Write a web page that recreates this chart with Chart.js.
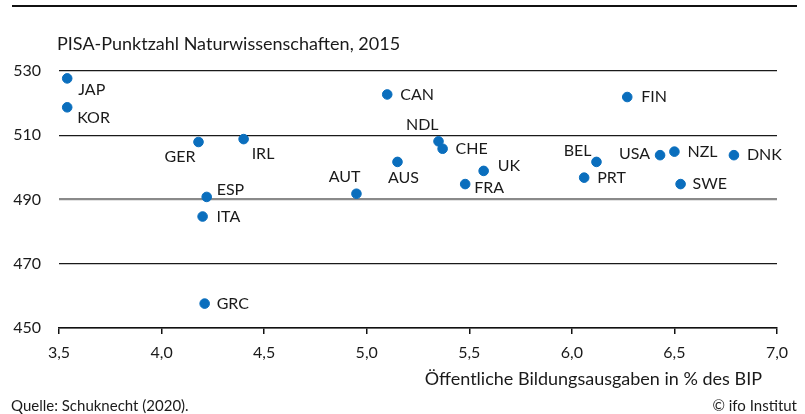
<!DOCTYPE html>
<html>
<head>
<meta charset="utf-8">
<script src="https://cdn.jsdelivr.net/npm/chart.js@4"></script>
<style>
  html, body { margin: 0; padding: 0; background: #fff; }
  #wrap { width: 805px; height: 414px; position: relative; }
</style>
</head>
<body>
<div id="wrap"><canvas id="pisaChart" width="805" height="414"></canvas></div>
<script>
// PISA score vs public education spending
const countries = ["JAP", "KOR", "GER", "IRL", "ESP", "ITA", "GRC", "AUT", "CAN", "AUS", "NDL",
                   "CHE", "UK", "FRA", "BEL", "PRT", "FIN", "USA", "NZL", "SWE", "DNK"];
const spending = [3.54, 3.54, 4.18, 4.40, 4.22, 4.20, 4.21, 4.95, 5.10, 5.15, 5.35,
                  5.37, 5.57, 5.48, 6.12, 6.06, 6.27, 6.43, 6.50, 6.53, 6.79];
const scores = [527.7, 518.7, 507.9, 508.8, 490.8, 484.7, 457.6, 491.8, 522.7, 501.7, 508.1,
                505.8, 498.9, 494.8, 501.7, 496.8, 521.9, 503.8, 504.9, 494.8, 503.8];
const yTicks = [450, 470, 490, 510, 530];
const xTickLabels = ["3,5", "4,0", "4,5", "5,0", "5,5", "6,0", "6,5", "7,0"];

const FONT = "Lato, 'Noto Sans', sans-serif";
const TEXT = "#1a1a1a";
const DOT = "#0a6ebd";

// where each label sits relative to its dot: [dx, dy, align]
const labelPlace = {
  JAP: [11, 11, "left"], KOR: [10, 11, "left"], GER: [-3, 15, "right"], IRL: [8, 15, "left"],
  ESP: [10, -7, "left"], ITA: [14, 0, "left"], GRC: [12, 0, "left"], AUT: [4, -17, "right"],
  CAN: [13, 0, "left"], AUS: [6, 16, "center"], NDL: [0, -17, "right"], CHE: [13, 0, "left"],
  UK: [14, -5, "left"], FRA: [9, 4, "left"], BEL: [-5, -11, "right"], PRT: [13, 0, "left"],
  FIN: [14, 0, "left"], USA: [-10, -1, "right"], NZL: [13, 0, "left"], SWE: [12, 0, "left"],
  DNK: [13, 0, "left"]
};

const pointLabels = {
  id: "pointLabels",
  afterDatasetsDraw(chart) {
    const ctx = chart.ctx;
    const meta = chart.getDatasetMeta(0);
    ctx.save();
    ctx.font = "16px " + FONT;
    ctx.fillStyle = TEXT;
    ctx.textBaseline = "middle";
    meta.data.forEach((pt, i) => {
      const p = labelPlace[countries[i]] || [12, 0, "left"];
      ctx.textAlign = p[2];
      ctx.fillText(countries[i], pt.x + p[0], pt.y + p[1]);
    });
    ctx.restore();
  }
};

const extras = {
  id: "extras",
  afterDraw(chart) {
    const ctx = chart.ctx;
    ctx.save();
    // rule at the very top (header cut off)
    ctx.strokeStyle = "#111";
    ctx.lineWidth = 2;
    ctx.beginPath();
    ctx.moveTo(12, 6);
    ctx.lineTo(797, 6);
    ctx.stroke();

    ctx.fillStyle = TEXT;
    ctx.textBaseline = "middle";
    ctx.font = "18px " + FONT;
    ctx.textAlign = "left";
    ctx.fillText("PISA-Punktzahl Naturwissenschaften, 2015", 57, 44);
    ctx.textAlign = "right";
    ctx.fillText("Öffentliche Bildungsausgaben in % des BIP", 762, 379);
    ctx.font = "15px " + FONT;
    ctx.textAlign = "left";
    ctx.fillText("Quelle: Schuknecht (2020).", 11, 406);
    ctx.textAlign = "right";
    ctx.fillText("© ifo Institut", 797, 406);
    ctx.restore();
  }
};

new Chart(document.getElementById("pisaChart"), {
  type: "scatter",
  data: {
    datasets: [{
      data: spending.map((x, i) => ({ x: x, y: scores[i] })),
      backgroundColor: DOT,
      borderColor: DOT,
      pointRadius: 4.8,
      pointHoverRadius: 4.8
    }]
  },
  options: {
    responsive: false,
    animation: false,
    layout: { padding: { left: 0, right: 28, top: 71, bottom: 0 } },
    plugins: { legend: { display: false }, tooltip: { enabled: false } },
    scales: {
      x: {
        type: "linear",
        min: 3.5, max: 7.0,
        afterFit: s => { s.height = 86; },
        afterBuildTicks: s => { s.ticks = xTickLabels.map((l, i) => ({ value: 3.5 + i * 0.5 })); },
        ticks: {
          callback: (v, i) => xTickLabels[i],
          font: { family: FONT, size: 16 },
          color: TEXT,
          padding: 9,
          maxRotation: 0
        },
        grid: { drawOnChartArea: false, drawTicks: true, tickLength: 6, color: "#111", lineWidth: 1.5 },
        border: { display: true, color: "#111", width: 1.5 }
      },
      y: {
        min: 450, max: 530,
        afterFit: s => { s.width = 59; },
        afterBuildTicks: s => { s.ticks = yTicks.map(v => ({ value: v })); },
        ticks: {
          font: { family: FONT, size: 16 },
          color: TEXT,
          padding: 18
        },
        grid: {
          drawTicks: false,
          color: c => (c.tick && c.tick.value === 490 ? "#8a8a8a" : "#1a1a1a"),
          lineWidth: c => (c.tick && c.tick.value === 490 ? 2.2 : 1.3)
        },
        border: { display: false }
      }
    }
  },
  plugins: [pointLabels, extras]
});
</script>
</body>
</html>
